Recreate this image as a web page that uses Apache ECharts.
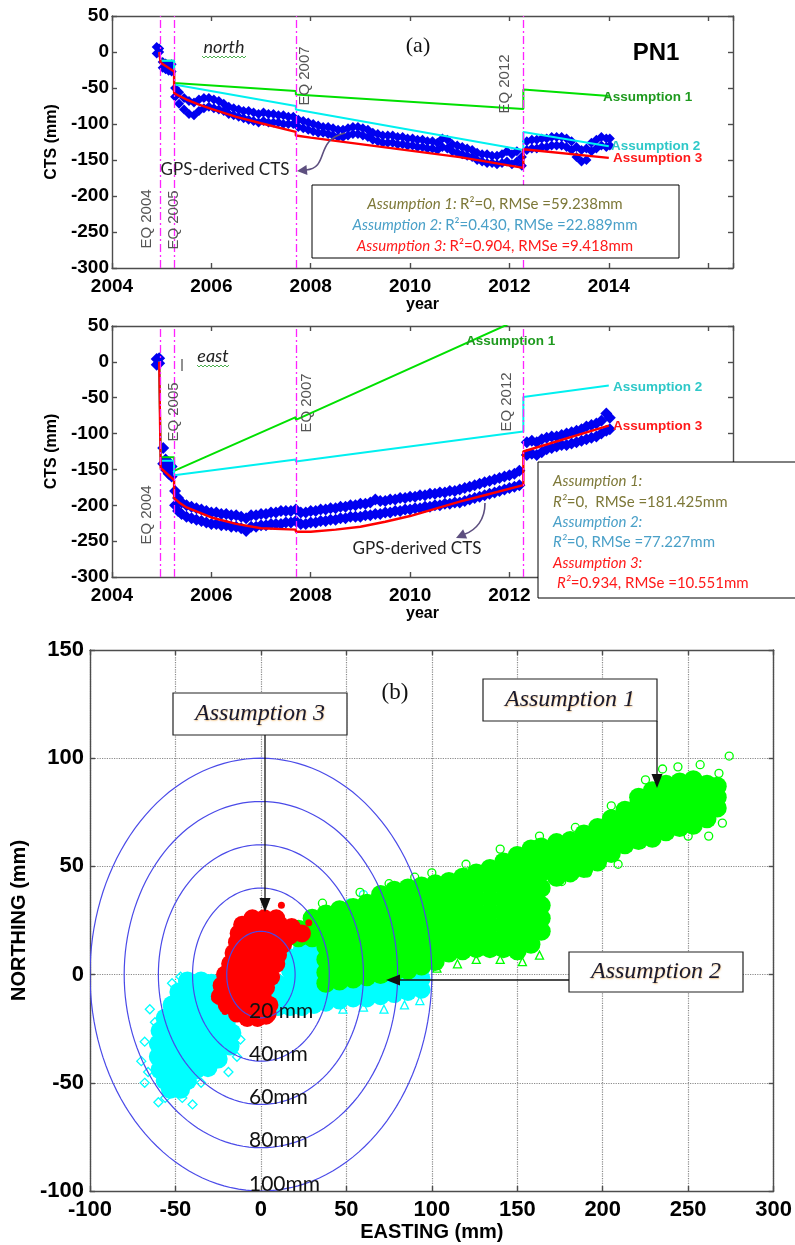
<!DOCTYPE html>
<html><head><meta charset="utf-8">
<script src="https://cdn.jsdelivr.net/npm/echarts/dist/echarts.min.js"></script>
<style>html,body{margin:0;padding:0;background:#fff}#c{width:795px;height:1245px}</style>
</head><body><div id="c"></div>
<script>
// ---------------- DATA ----------------
const eqYears = [2004.98, 2005.25, 2007.70, 2012.28];
const eqNames = ['EQ 2004', 'EQ 2005', 'EQ 2007', 'EQ 2012'];

// GPS-derived CTS, north: [year, lower value, upper value] (mm)
const northGps = [
[2004.90,-2,7],[2004.95,0,5],
[2005.02,-22,-14],[2005.08,-24,-16],[2005.14,-26,-18],[2005.20,-27,-17],
[2005.27,-62,-50],[2005.35,-72,-56],[2005.45,-80,-64],[2005.55,-86,-68],[2005.65,-88,-70],[2005.75,-82,-66],[2005.85,-78,-64],[2005.95,-76,-64],
[2006.05,-78,-66],[2006.15,-80,-68],[2006.25,-82,-72],[2006.35,-86,-76],[2006.45,-88,-78],[2006.55,-90,-80],[2006.65,-92,-82],[2006.75,-94,-82],[2006.85,-96,-84],[2006.95,-98,-86],
[2007.05,-96,-84],[2007.15,-98,-86],[2007.25,-98,-86],[2007.35,-98,-88],[2007.45,-100,-88],[2007.55,-100,-90],[2007.65,-100,-90],[2007.75,-104,-94],[2007.85,-106,-96],[2007.95,-108,-98],
[2008.05,-110,-100],[2008.15,-112,-102],[2008.25,-112,-104],[2008.35,-114,-104],[2008.45,-116,-106],[2008.55,-118,-108],[2008.65,-118,-108],[2008.75,-116,-106],[2008.85,-114,-104],[2008.95,-114,-104],
[2009.05,-116,-106],[2009.15,-118,-108],[2009.25,-122,-112],[2009.35,-124,-114],[2009.45,-126,-116],[2009.55,-126,-116],[2009.65,-126,-116],[2009.75,-128,-118],[2009.85,-128,-118],[2009.95,-130,-120],
[2010.05,-130,-120],[2010.15,-132,-122],[2010.25,-132,-122],[2010.35,-134,-124],[2010.45,-134,-124],[2010.55,-136,-126],[2010.65,-132,-120],[2010.75,-134,-122],[2010.85,-138,-128],[2010.95,-140,-130],
[2011.05,-142,-132],[2011.15,-144,-134],[2011.25,-146,-136],[2011.35,-150,-140],[2011.45,-152,-142],[2011.55,-154,-142],[2011.65,-154,-144],[2011.75,-156,-144],[2011.85,-154,-142],[2011.95,-152,-138],
[2012.05,-156,-142],[2012.15,-152,-138],[2012.25,-158,-146],
[2012.35,-136,-124],[2012.45,-134,-122],[2012.55,-134,-122],[2012.65,-132,-120],[2012.75,-132,-120],[2012.85,-130,-118],[2012.95,-130,-118],
[2013.05,-130,-118],[2013.15,-132,-120],[2013.25,-136,-124],[2013.35,-146,-132],[2013.45,-152,-136],[2013.55,-150,-134],[2013.65,-138,-126],[2013.75,-134,-122],[2013.85,-130,-118],[2013.95,-132,-120],[2014.02,-130,-120]
];
// GPS-derived CTS, east: [year, lower value, upper value] (mm)
const eastGps = [
[2004.90,-4,4],[2004.95,-2,5],
[2005.03,-142,-120],[2005.08,-150,-136],[2005.14,-156,-140],[2005.20,-160,-146],
[2005.27,-200,-180],[2005.33,-208,-190],[2005.40,-212,-196],[2005.50,-216,-200],[2005.60,-218,-202],[2005.70,-220,-204],[2005.80,-222,-206],[2005.90,-224,-208],
[2006.00,-226,-210],[2006.10,-226,-210],[2006.20,-228,-212],[2006.30,-228,-212],[2006.40,-230,-214],[2006.50,-230,-214],[2006.60,-232,-216],[2006.70,-236,-218],[2006.80,-230,-214],[2006.90,-230,-214],
[2007.00,-228,-212],[2007.10,-228,-212],[2007.20,-226,-210],[2007.30,-226,-210],[2007.40,-226,-208],[2007.50,-224,-208],[2007.60,-224,-208],[2007.70,-222,-206],[2007.80,-226,-210],[2007.90,-226,-210],
[2008.00,-224,-208],[2008.10,-224,-208],[2008.20,-222,-206],[2008.30,-222,-206],[2008.40,-220,-204],[2008.50,-220,-204],[2008.60,-218,-202],[2008.70,-218,-202],[2008.80,-216,-200],[2008.90,-216,-200],
[2009.00,-216,-198],[2009.10,-214,-198],[2009.20,-214,-196],[2009.30,-212,-192],[2009.40,-212,-194],[2009.50,-210,-194],[2009.60,-210,-192],[2009.70,-208,-192],[2009.80,-208,-190],[2009.90,-206,-190],
[2010.00,-206,-188],[2010.10,-204,-188],[2010.20,-204,-186],[2010.30,-202,-186],[2010.40,-202,-184],[2010.50,-200,-184],[2010.60,-200,-182],[2010.70,-198,-182],[2010.80,-198,-180],[2010.90,-196,-180],
[2011.00,-196,-178],[2011.10,-194,-176],[2011.20,-192,-174],[2011.30,-190,-172],[2011.40,-188,-170],[2011.50,-186,-168],[2011.60,-184,-166],[2011.70,-182,-164],[2011.80,-180,-162],[2011.90,-178,-160],
[2012.00,-176,-158],[2012.10,-174,-156],[2012.20,-172,-152],
[2012.35,-130,-112],[2012.45,-128,-110],[2012.55,-130,-112],[2012.65,-126,-108],[2012.75,-122,-106],[2012.85,-120,-104],[2012.95,-118,-104],
[2013.05,-116,-102],[2013.15,-116,-100],[2013.25,-114,-98],[2013.35,-112,-96],[2013.45,-110,-94],[2013.55,-108,-90],[2013.65,-106,-88],[2013.75,-104,-86],[2013.85,-100,-82],[2013.95,-96,-72],[2014.02,-94,-78]
];

// Model CTS curves [year, mm]
const northA1 = [[2004.95,0],[2004.98,0],[2004.98,-12],[2005.25,-12],[2005.25,-43],[2007.70,-54],[2007.70,-59],[2012.28,-79],[2012.28,-52],[2014.00,-61]];
const northA2 = [[2004.95,0],[2004.98,0],[2004.98,-12],[2005.25,-12],[2005.25,-45],[2007.70,-75],[2007.70,-80],[2012.28,-136],[2012.28,-111],[2014.00,-131]];
const northA3 = [[2004.95,0],[2004.98,0],[2004.98,-15],[2005.25,-27],[2005.25,-57],[2005.35,-61],[2005.50,-66],[2005.75,-73],[2006.00,-79],[2006.50,-90],[2007.00,-99],[2007.70,-111],[2007.70,-116],[2008.00,-119],[2009.00,-128],[2010.00,-137],[2011.00,-146],[2012.28,-161],[2012.28,-135],[2014.00,-147]];
const eastA1 = [[2004.95,0],[2004.98,0],[2004.98,-133],[2005.25,-133],[2005.25,-152],[2007.70,-77],[2007.70,-81],[2012.28,62]];
const eastA2 = [[2004.95,0],[2004.98,0],[2004.98,-138],[2005.25,-138],[2005.25,-158],[2007.70,-136],[2007.70,-139],[2012.28,-97],[2012.28,-49],[2014.00,-33]];
const eastA3 = [[2004.95,0],[2004.98,0],[2004.98,-148],[2005.25,-165],[2005.25,-190],[2005.35,-196],[2005.50,-203],[2005.75,-210],[2006.00,-217],[2006.50,-226],[2007.00,-232],[2007.70,-234],[2007.70,-237],[2008.00,-237],[2008.50,-234],[2009.00,-230],[2009.50,-223],[2010.00,-215],[2010.50,-205],[2011.00,-195],[2011.50,-186],[2012.28,-172],[2012.28,-125],[2014.00,-89]];

// (b) residual clouds [easting, northing] (mm)
const redCloud = [
[-5,26],[2,26],[9,26],
[-11,23],[-4,23],[4,23],[11,23],[18,22],
[-13,19],[-6,19],[2,19],[10,19],[17,18],[24,19],
[-14,15],[-7,15],[1,15],[9,15],[13,14],
[-16,10],[-9,10],[-2,10],[6,10],[10,9],
[-18,5],[-11,5],[-4,5],[4,5],[9,5],
[-21,0],[-14,0],[-7,0],[1,0],[6,-1],
[-23,-5],[-16,-5],[-9,-5],[-2,-5],[3,-6],
[-24,-10],[-17,-10],[-10,-10],[-3,-10],[1,-10],
[-20,-14],[-13,-14],[-6,-14],[1,-14],[5,-14],
[-14,-18],[-7,-18],[0,-18],[4,-18],
[-8,-20],[-2,-20],[3,-19]
];
const redOut = [[12,32],[-21,-17],[28,24],[-27,-11],[-25,-6]];
const cyanTail = [
[-43,-3],[-35,-3],[-29,-4],
[-48,-8],[-41,-8],[-34,-8],[-27,-9],
[-52,-14],[-45,-14],[-38,-14],[-31,-14],[-23,-15],
[-56,-20],[-49,-20],[-42,-20],[-35,-20],[-27,-20],[-20,-21],
[-59,-26],[-52,-26],[-45,-26],[-38,-26],[-30,-26],[-23,-27],[-17,-27],
[-60,-32],[-53,-32],[-46,-32],[-39,-32],[-31,-32],[-24,-33],[-18,-33],
[-60,-38],[-53,-38],[-46,-38],[-39,-38],[-31,-38],[-25,-39],
[-59,-44],[-52,-44],[-45,-44],[-38,-44],[-31,-43],
[-56,-49],[-49,-49],[-43,-49],
[-53,-53],[-47,-53]
];
const cyanTailOut = [[-68,-31],[-68,-50],[-60,-59],[-46,-57],[-19,-45],[-27,-42],[-47,-1],[-62,-22],[-40,-60],[-70,-40],[-12,-30],[-52,-4],[-65,-16],[-35,-50],[-66,-45],[-56,-57],[-14,-38]];
const cyanCore = [
[10,-15],[10,-10],[10,-4],
[17,-15],[17,-10],[17,-4],[17,2],[17,8],
[24,-15],[24,-10],[24,-4],[24,2],[24,8],[24,12],
[31,-14],[31,-9],[31,-3],[31,3],[31,9],[31,13],
[38,-13],[38,-8],[38,-2],[38,4],
[46,-12],[46,-7],[46,-1],
[54,-11],[54,-6],[54,0],
[62,-11],[62,-6],[62,0],
[70,-10],[70,-5],[70,1],
[78,-9],[78,-4],[78,2],
[86,-8],[86,-3],[86,3],
[94,-7],[94,-2],[94,3]
];
const cyanTri = [[48,-16],[72,-16],[93,-12],[60,-15],[84,-14]];
const cyanCirc = [[60,37],[45,29],[52,33]];
const greenCloud = [
[22,17],[22,21],
[30,17],[30,22],[30,26],
[38,-4],[38,1],[38,7],[38,13],[38,19],[38,24],[38,28],
[46,-3],[46,2],[46,8],[46,14],[46,20],[46,26],[46,30],
[54,-2],[54,3],[54,9],[54,15],[54,21],[54,27],[54,31],
[62,-1],[62,4],[62,10],[62,16],[62,22],[62,28],[62,33],
[70,0],[70,5],[70,11],[70,17],[70,23],[70,29],[70,34],[70,37],
[78,1],[78,6],[78,12],[78,18],[78,24],[78,30],[78,35],[78,39],
[86,2],[86,7],[86,13],[86,19],[86,25],[86,31],[86,36],[86,40],
[94,4],[94,9],[94,15],[94,21],[94,27],[94,33],[94,37],[94,41],
[102,6],[102,11],[102,17],[102,23],[102,29],[102,35],[102,39],[102,42],
[110,10],[110,15],[110,21],[110,27],[110,33],[110,39],[110,43],
[118,11],[118,16],[118,22],[118,28],[118,34],[118,40],[118,45],
[126,12],[126,17],[126,23],[126,29],[126,35],[126,41],[126,47],
[134,12],[134,17],[134,23],[134,29],[134,35],[134,41],[134,46],[134,49],
[142,12],[142,17],[142,23],[142,29],[142,35],[142,41],[142,47],[142,52],
[150,11],[150,16],[150,22],[150,28],[150,34],[150,40],[150,46],[150,51],[150,55],
[158,14],[158,19],[158,25],[158,31],[158,37],[158,43],[158,49],[158,54],[158,58],
[164,20],[164,26],[164,32],[164,40],[164,47],[164,53],[164,59],
[173,45],[173,50],[173,56],[173,61],
[181,47],[181,52],[181,58],[181,62],
[189,49],[189,54],[189,60],[189,65],
[197,52],[197,57],[197,63],[197,68],
[205,56],[205,61],[205,67],[205,72],
[213,60],[213,65],[213,71],[213,76],
[221,62],[221,67],[221,73],[221,79],[221,82],
[229,63],[229,68],[229,74],[229,80],[229,85],
[237,66],[237,71],[237,77],[237,83],[237,88],
[245,68],[245,73],[245,79],[245,85],[245,89],
[253,69],[253,74],[253,80],[253,86],[253,90],
[261,72],[261,77],[261,83],[261,88],
[267,77],[267,82],[267,87]
];
const greenCirc = [[274,101],[140,58],[191,47],[209,51],[244,96],[257,97],[262,64],[270,70],[100,47],[75,42],[36,33],[163,64],[225,90],[120,51],[184,68],[235,95],[268,93],[250,64],[176,43],[58,38],[90,45],[205,78]];
const greenTri = [[153,6],[163,9],[126,7],[103,3],[140,7],[115,5]];
const ringRadii = [20, 40, 60, 80, 100];
const ringNames = ['20 mm', '40mm', '60mm', '80mm', '100mm'];

// ---------------- CHART ----------------
const FONT = "'Liberation Sans', Arial, Helvetica, sans-serif";
const CAL = "Lato, 'Open Sans', sans-serif";
const SERIF = "'Liberation Serif', 'Times New Roman', serif";
const chart = echarts.init(document.getElementById('c'), null, {renderer: 'canvas'});
const AXC = {color: '#4d4d4d', width: 1.4};

function xAx(grid, min, max, interval, opts) {
  return Object.assign({gridIndex: grid, type: 'value', min, max, interval, position: 'bottom',
    axisLine: {onZero: false, lineStyle: AXC}, axisTick: {inside: true, length: 5, lineStyle: AXC},
    splitLine: {show: false}}, opts);
}
function yAx(grid, min, max, interval, opts) {
  return Object.assign({gridIndex: grid, type: 'value', min, max, interval, position: 'left',
    axisLine: {onZero: false, lineStyle: AXC}, axisTick: {inside: true, length: 5, lineStyle: AXC},
    splitLine: {show: false}}, opts);
}
const yrFmt = v => (v > 2014.5 ? '' : String(v));
const yrFmtEast = v => (v > 2012.5 ? '' : String(v)); // 2014 hidden behind the statistics box
const lblTop = {color: '#000', fontWeight: 'bold', fontSize: 19, fontFamily: FONT};
const lblBot = {color: '#000', fontWeight: 'bold', fontSize: 22, fontFamily: FONT};
const nameTop = {color: '#000', fontWeight: 'bold', fontSize: 16, fontFamily: FONT};
const nameBot = {color: '#000', fontWeight: 'bold', fontSize: 20, fontFamily: FONT};
const dotted = {show: true, lineStyle: {type: 'dotted', color: '#8a8a8a', width: 1.2}};
const noLbl = {axisLabel: {show: false}};

const xAxes = [
  xAx(0, 2004, 2016.5, 2, {axisLabel: Object.assign({margin: 9, formatter: yrFmt}, lblTop), name: 'year', nameLocation: 'middle', nameGap: 27, nameTextStyle: nameTop}),
  xAx(0, 2004, 2016.5, 2, Object.assign({position: 'top'}, noLbl)),
  xAx(1, 2004, 2016.5, 2, {axisLabel: Object.assign({margin: 9, formatter: yrFmtEast}, lblTop), name: 'year', nameLocation: 'middle', nameGap: 27, nameTextStyle: nameTop}),
  xAx(1, 2004, 2016.5, 2, Object.assign({position: 'top'}, noLbl)),
  xAx(2, -100, 300, 50, {axisLabel: Object.assign({margin: 8}, lblBot), splitLine: dotted, name: 'EASTING (mm)', nameLocation: 'middle', nameGap: 31, nameTextStyle: nameBot}),
  xAx(2, -100, 300, 50, Object.assign({position: 'top'}, noLbl))
];
const yAxes = [
  yAx(0, -300, 50, 50, {axisLabel: Object.assign({margin: 3}, lblTop), name: 'CTS (mm)', nameLocation: 'middle', nameGap: 51, nameTextStyle: nameTop}),
  yAx(0, -300, 50, 50, Object.assign({position: 'right'}, noLbl)),
  yAx(1, -300, 50, 50, {axisLabel: Object.assign({margin: 3}, lblTop), name: 'CTS (mm)', nameLocation: 'middle', nameGap: 51, nameTextStyle: nameTop}),
  yAx(1, -300, 50, 50, Object.assign({position: 'right'}, noLbl)),
  yAx(2, -100, 150, 50, {axisLabel: Object.assign({margin: 6}, lblBot), splitLine: dotted, name: 'NORTHING (mm)', nameLocation: 'middle', nameGap: 56, nameTextStyle: nameBot}),
  yAx(2, -100, 150, 50, Object.assign({position: 'right'}, noLbl))
];

const toPts = rows => rows.flatMap(r => [[r[0], r[1]], [r[0], r[2]]]);
function gps(rows, ax, size) {
  return {type: 'scatter', xAxisIndex: ax, yAxisIndex: ax, data: toPts(rows), symbol: 'diamond', symbolSize: size,
    itemStyle: {color: '#0000f0', opacity: 1}, z: 2, silent: true,
    markLine: {silent: true, symbol: ['none', 'none'], label: {show: false}, animation: false,
      lineStyle: {color: '#ff22ff', width: 1.3, type: [8, 3, 2, 3], opacity: 1}, data: eqYears.map(t => ({xAxis: t}))}};
}
function model(data, color, w, ax) {
  return {type: 'line', xAxisIndex: ax, yAxisIndex: ax, data, symbol: 'none', showSymbol: false,
    lineStyle: {color, width: w}, z: 4, clip: true, silent: true};
}
function cloud(data, color, size, symbol, hollow, z) {
  return {type: 'scatter', xAxisIndex: 4, yAxisIndex: 4, data, symbol, symbolSize: size, silent: true, z: z,
    itemStyle: hollow ? {color: 'rgba(0,0,0,0)', borderColor: color, borderWidth: 1.3, opacity: 1} : {color: color, opacity: 1}};
}

const series = [
  gps(northGps, 0, 10),
  model(northA1, '#00e000', 2, 0), model(northA2, '#00f0f0', 2, 0), model(northA3, '#ff0000', 2.4, 0),
  gps(eastGps, 2, 12),
  model(eastA1, '#00e000', 2, 2), model(eastA2, '#00f0f0', 2, 2), model(eastA3, '#ff0000', 2.4, 2),
  cloud(cyanTailOut, '#00ffff', 9, 'diamond', true, 2),
  cloud(cyanTail, '#00ffff', 19, 'circle', false, 2),
  cloud(cyanCore, '#00ffff', 18, 'circle', false, 2),
  cloud(cyanTri, '#00ffff', 8, 'triangle', true, 2),
  cloud(cyanCirc, '#00ffff', 8, 'circle', true, 2),
  cloud(greenCloud, '#00ff00', 19, 'circle', false, 3),
  cloud(greenCirc, '#00ff00', 8, 'circle', true, 3),
  cloud(greenTri, '#00ff00', 8, 'triangle', true, 3),
  cloud(redCloud, '#ff0000', 18, 'circle', false, 4),
  cloud(redOut, '#ff0000', 7, 'circle', false, 4),
  {type: 'custom', xAxisIndex: 4, yAxisIndex: 4, data: ringRadii.map((r, i) => [r, i]), z: 6, silent: true, clip: true,
    renderItem: (params, api) => {
      const r = api.value(0);
      const c = api.coord([0, 0]);
      const e = api.coord([r, r]);
      const rx = e[0] - c[0], ry = c[1] - e[1];
      const pts = [];
      for (let k = 0; k <= 144; k++) { const a = k / 144 * Math.PI * 2; pts.push([c[0] + rx * Math.cos(a), c[1] + ry * Math.sin(a)]); }
      const lp = api.coord([-7, -r]);
      return {type: 'group', children: [
        {type: 'polyline', shape: {points: pts}, style: {stroke: '#4a4ae8', lineWidth: 1.2, fill: null}},
        {type: 'text', x: lp[0], y: lp[1] - 7, z2: 10, style: {text: ringNames[params.dataIndex], fill: '#111', font: '21px ' + CAL, align: 'left', verticalAlign: 'middle'}}
      ]};
    }}
];

chart.setOption({
  animation: false,
  backgroundColor: '#fff',
  grid: [
    {left: 112, top: 16, width: 621, height: 252},
    {left: 112, top: 326, width: 621, height: 251},
    {left: 90, top: 650, width: 686, height: 541}
  ],
  xAxis: xAxes, yAxis: yAxes, series
});

// ---------------- ANNOTATIONS ----------------
const G = [];
function txt(x, y, text, font, fill, align) {
  G.push({type: 'text', x, y, z: 100, style: {text, font, fill, align: align || 'center', verticalAlign: 'middle'}});
}
function rtxt(x, y, text, rich, align) {
  G.push({type: 'text', x, y, z: 100, style: {text, rich, align: align || 'center', verticalAlign: 'middle'}});
}
function squiggle(x0, x1, y, color) {
  const pts = []; let up = true;
  for (let x = x0; x <= x1; x += 2) { pts.push([x, up ? y - 1 : y + 1]); up = !up; }
  G.push({type: 'polyline', z: 100, shape: {points: pts}, style: {stroke: color, lineWidth: 1, fill: null}});
}
function arrowHead(tip, dir, len, half, color) {
  const n = Math.hypot(dir[0], dir[1]); const ux = dir[0] / n, uy = dir[1] / n;
  const bx = tip[0] - ux * len, by = tip[1] - uy * len;
  G.push({type: 'polygon', z: 101, shape: {points: [tip, [bx - uy * half, by + ux * half], [bx + uy * half, by - ux * half]]}, style: {fill: color}});
}

// EQ labels (positioned from the axis scale)
const eqLayout = [
  [[0, -14, 219], [0, 0, 220], [0, 9, 76], [0, -18, 84]],
  [[2, -14, 515], [2, 0, 412], [2, 11, 403], [2, -16, 402]]
];
eqLayout.forEach(panel => panel.forEach((l, i) => {
  const px = chart.convertToPixel({xAxisIndex: l[0]}, eqYears[i]);
  G.push({type: 'text', x: px + l[1], y: l[2], rotation: Math.PI / 2, z: 100,
    style: {text: eqNames[i], font: '15px ' + FONT, fill: '#555', align: 'center', verticalAlign: 'middle'}});
}));

// panel (a) north
txt(224, 47, 'north', 'italic 18px ' + CAL, '#222');
squiggle(202, 247, 57, '#4caf50');
txt(418, 46, '(a)', '22px ' + SERIF, '#111');
txt(656, 53, 'PN1', 'bold 24px ' + FONT, '#000');
txt(603, 97, 'Assumption 1', 'bold 13.5px ' + FONT, '#1f9a1f', 'left');
txt(611, 146, 'Assumption 2', 'bold 13.5px ' + FONT, '#2ec8c8', 'left');
txt(613, 158, 'Assumption 3', 'bold 13.5px ' + FONT, '#ff1a1a', 'left');
txt(225, 170, 'GPS-derived CTS', '17px ' + CAL, '#222');
G.push({type: 'bezierCurve', z: 100, shape: {x1: 345, y1: 133, cpx1: 314, cpy1: 140, cpx2: 330, cpy2: 168, x2: 306, y2: 170}, style: {stroke: '#5d4f7f', lineWidth: 1.6, fill: null}});
arrowHead([297, 171], [-1, 0.1], 10, 5, '#5d4f7f');
G.push({type: 'rect', z: 99, shape: {x: 312, y: 185, width: 367, height: 73}, style: {fill: '#fff', stroke: '#000', lineWidth: 1}});
const OL = '#7d7838', SB = '#4aa0c8', RD = '#ff1a1a';
rtxt(495, 204, '{i|Assumption 1:} {n|R²=0, RMSe =59.238mm}', {i: {font: 'italic 15px ' + CAL, fill: OL}, n: {font: '15px ' + CAL, fill: OL}});
rtxt(495, 225, '{i|Assumption 2:} {n|R²=0.430, RMSe =22.889mm}', {i: {font: 'italic 15px ' + CAL, fill: SB}, n: {font: '15px ' + CAL, fill: SB}});
rtxt(495, 246, '{i|Assumption 3:} {n|R²=0.904, RMSe =9.418mm}', {i: {font: 'italic 15px ' + CAL, fill: RD}, n: {font: '15px ' + CAL, fill: RD}});

// panel (a) east
txt(213, 356, 'east', 'italic 18px ' + CAL, '#222');
squiggle(197, 230, 366, '#4caf50');
G.push({type: 'line', z: 100, shape: {x1: 182, y1: 359, x2: 182, y2: 371}, style: {stroke: '#222', lineWidth: 1}});
txt(466, 341, 'Assumption 1', 'bold 13.5px ' + FONT, '#1f9a1f', 'left');
txt(613, 387, 'Assumption 2', 'bold 13.5px ' + FONT, '#2ec8c8', 'left');
txt(613, 426, 'Assumption 3', 'bold 13.5px ' + FONT, '#ff1a1a', 'left');
txt(417, 549, 'GPS-derived CTS', '17px ' + CAL, '#222');
G.push({type: 'bezierCurve', z: 100, shape: {x1: 485, y1: 503, cpx1: 485, cpy1: 520, cpx2: 476, cpy2: 530, x2: 465, y2: 534}, style: {stroke: '#5d4f7f', lineWidth: 1.6, fill: null}});
arrowHead([456, 538], [-18, 8], 10, 5, '#5d4f7f');
G.push({type: 'rect', z: 99, shape: {x: 538, y: 462, width: 262, height: 136}, style: {fill: '#fff', stroke: '#000', lineWidth: 1}});
const r2 = (c) => ({i: {font: 'italic 15px ' + CAL, fill: c}, n: {font: '15px ' + CAL, fill: c}});
rtxt(553, 481, '{i|Assumption 1:}', r2(OL), 'left');
rtxt(553, 502, '{i|R²}{n|=0,  RMSe =181.425mm}', r2(OL), 'left');
rtxt(553, 522, '{i|Assumption 2:}', r2(SB), 'left');
rtxt(553, 542, '{i|R²}{n|=0, RMSe =77.227mm}', r2(SB), 'left');
rtxt(553, 563, '{i|Assumption 3:}', r2(RD), 'left');
rtxt(557, 583, '{i|R²}{n|=0.934, RMSe =10.551mm}', r2(RD), 'left');

// panel (b)
txt(395, 693, '(b)', '23px ' + SERIF, '#111');
function noteBox(x, y, w, h, text) {
  G.push({type: 'rect', z: 99, shape: {x, y, width: w, height: h}, style: {fill: '#fff', stroke: '#222', lineWidth: 1.2}});
  G.push({type: 'text', x: x + w / 2, y: y + h / 2, z: 100, style: {text, font: 'italic 24px ' + SERIF, fill: '#1a1a2e', align: 'center', verticalAlign: 'middle', textShadowColor: 'rgba(230,150,40,0.55)', textShadowBlur: 1.5, textShadowOffsetX: 0.5, textShadowOffsetY: 0.5}});
}
noteBox(173, 693, 174, 42, 'Assumption 3');
G.push({type: 'line', z: 100, shape: {x1: 265, y1: 735, x2: 265, y2: 900}, style: {stroke: '#111', lineWidth: 1.3}});
arrowHead([265, 912], [0, 1], 14, 5.5, '#111');
noteBox(483, 679, 174, 42, 'Assumption 1');
G.push({type: 'line', z: 100, shape: {x1: 657, y1: 721, x2: 657, y2: 776}, style: {stroke: '#111', lineWidth: 1.3}});
arrowHead([657, 788], [0, 1], 14, 5.5, '#111');
noteBox(569, 952, 174, 40, 'Assumption 2');
G.push({type: 'line', z: 100, shape: {x1: 569, y1: 980, x2: 398, y2: 980}, style: {stroke: '#111', lineWidth: 1.3}});
arrowHead([386, 980], [-1, 0], 14, 5.5, '#111');

chart.setOption({graphic: {elements: G}});
</script></body></html>
